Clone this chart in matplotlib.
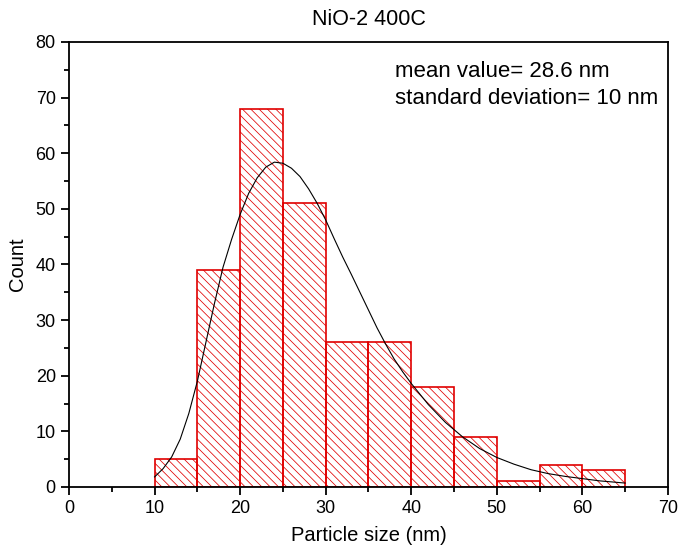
import matplotlib
matplotlib.use("Agg")
import matplotlib.pyplot as plt
from matplotlib.ticker import MultipleLocator

# histogram: bin left edges (nm) and counts
bin_left = [10, 15, 20, 25, 30, 35, 40, 45, 50, 55, 60]
counts = [5, 39, 68, 51, 26, 26, 18, 9, 1, 4, 3]
bin_width = 5

# fitted curve, points
fit_x = [10, 11, 12, 13, 14, 15, 16, 17, 18, 19, 20, 21, 22, 23, 24, 25, 26, 27,
         28, 29, 30, 31, 32, 33, 34, 35, 36, 37, 38, 39, 40, 42, 44, 46, 48, 50,
         52, 54, 56, 58, 60, 62, 65]
fit_y = [1.8, 3.3, 5.4, 8.6, 13.2, 19.0, 26.0, 33.0, 39.5, 44.5, 49.0, 52.8,
         55.6, 57.5, 58.4, 58.2, 57.3, 55.8, 53.6, 51.0, 48.0, 44.6, 41.3, 38.2,
         35.0, 31.8, 28.6, 25.7, 23.0, 20.7, 18.6, 14.8, 11.6, 9.0, 6.9, 5.3,
         4.1, 3.1, 2.4, 1.9, 1.5, 1.1, 0.7]

title = "NiO-2 400C"
stats_text = "mean value= 28.6 nm\nstandard deviation= 10 nm"

plt.rcParams["font.family"] = ["Liberation Sans", "DejaVu Sans"]
plt.rcParams["hatch.linewidth"] = 0.55

fig = plt.figure(figsize=(6.79, 5.51), dpi=100)
ax = fig.add_axes([0.1016, 0.1162, 0.8822, 0.8076])

ax.bar(bin_left, counts, width=bin_width, align="edge", fill=False,
       edgecolor="#e00000", linewidth=1.2, hatch="\\\\\\\\")
ax.plot(fit_x, fit_y, color="black", linewidth=0.8)

ax.set_xlim(0, 70)
ax.set_ylim(0, 80)
ax.xaxis.set_major_locator(MultipleLocator(10))
ax.xaxis.set_minor_locator(MultipleLocator(5))
ax.yaxis.set_major_locator(MultipleLocator(10))
ax.yaxis.set_minor_locator(MultipleLocator(5))
ax.tick_params(which="major", direction="out", length=6, width=1.3, labelsize=13)
ax.tick_params(which="minor", direction="out", length=3.5, width=1.3)
for sp in ax.spines.values():
    sp.set_linewidth(1.3)

ax.set_xlabel("Particle size (nm)", fontsize=14.5, labelpad=6)
ax.set_ylabel("Count", fontsize=14.5, labelpad=6)
ax.set_title(title, fontsize=15.5, pad=12)
ax.text(0.544, 0.958, stats_text, transform=ax.transAxes, fontsize=16,
        va="top", ha="left", linespacing=1.4)

fig.savefig("out.png", dpi=100)
